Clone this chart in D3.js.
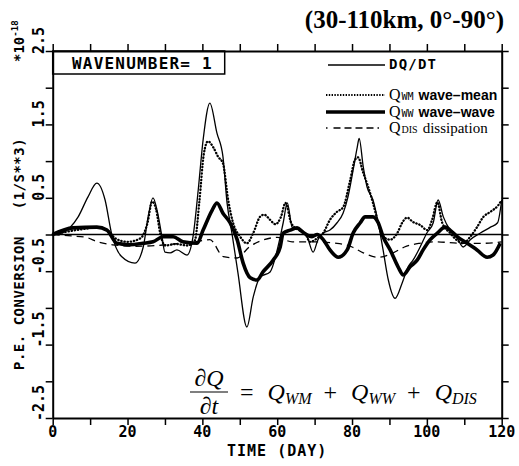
<!DOCTYPE html>
<html>
<head>
<meta charset="utf-8">
<script src="https://cdn.jsdelivr.net/npm/d3@7"></script>
<style>
  body { margin: 0; background: white; }
  .mono { font-family: "DejaVu Sans Mono", monospace; font-weight: bold; fill: black; }
</style>
</head>
<body>
<div id="viz"></div>
<script>
// series: [day, value x 1e-18]
var dqdt = [[0,0],[2.4,0.02],[6.8,0.24],[9.4,0.51],[11.8,0.70],[14,0.47],[15.7,0.02],[18.4,-0.30],[22,-0.39],[24.2,-0.17],
  [25.5,0.24],[26.8,0.50],[27.9,0.33],[29.2,-0.03],[30,-0.24],[31.4,-0.25],[33.2,-0.21],[35.9,-0.28],[37.5,-0.03],[38.9,0.61],
  [40.2,1.29],[42,1.79],[43.9,1.38],[45.5,1.06],[46.6,0.43],[47.9,0.02],[49.5,-0.52],[51.9,-1.26],[53.6,-0.85],[55.4,-0.58],
  [58.1,-0.51],[60.2,-0.17],[61.6,0.16],[62.7,0.43],[64,0.10],[66.1,0.06],[68,-0.03],[69.6,-0.24],[70.9,-0.07],[72.3,0.02],
  [74.1,0.06],[76,0.16],[77.6,0.29],[78.9,0.51],[80.3,0.88],[81.4,1.19],[81.9,1.31],[83,0.92],[84,0.65],[85.6,0.47],
  [87,0.16],[88.3,-0.21],[89.7,-0.62],[91.5,-0.87],[93.4,-0.66],[95,-0.44],[96.3,-0.35],[98.2,-0.17],[100,0.02],[101.7,0.16],
  [103,0.47],[104.4,0.24],[106.2,0.06],[108.1,-0.05],[109.7,-0.17],[111.6,-0.07],[114.3,0.02],[117,0.10],[118.9,0.16],[120,0.47]];

var qwm = [[0,0],[5,0.05],[9,0.08],[12,0.1],[14.5,0.06],[17,-0.06],[20,-0.1],[23.5,-0.05],[25.3,0.15],[26.6,0.45],
  [27.6,0.35],[28.8,0.0],[30,-0.15],[33,-0.13],[36,-0.15],[38,-0.08],[39.2,0.45],[40.4,1.1],[41.5,1.27],[43,1.18],
  [44.2,1.06],[45.5,0.97],[46.9,0.47],[48.2,0.16],[50.1,-0.03],[51.9,-0.12],[53.6,0.02],[55.4,0.24],[56.5,0.27],[58.1,0.20],
  [59.5,0.14],[61,0.24],[62.2,0.43],[63.8,0.15],[65.8,0.06],[67.4,0.02],[68.8,-0.10],[70.7,-0.05],[72.3,0.02],[74.1,0.2],
  [76,0.31],[77.6,0.37],[79.5,0.74],[80.8,1.02],[81.6,1.05],[83,0.84],[84.3,0.65],[85.6,0.43],[87,0.16],[88.3,-0.03],
  [90.2,-0.07],[92.1,0.02],[93.4,0.16],[94.7,0.23],[96.3,0.17],[98.2,0.13],[100.1,0.06],[101.4,0.2],[102.8,0.44],[104.1,0.16],
  [106.2,0.02],[108.1,-0.08],[109.7,-0.12],[111.6,-0.03],[113.4,0.10],[115.1,0.24],[117,0.31],[119.1,0.40],[120,0.47]];

var qww = [[0,0],[5.4,0.09],[11.8,0.10],[14.5,0.06],[17.2,-0.12],[20.7,-0.14],[24.1,-0.12],[26.8,-0.10],[29.5,-0.03],[32.2,-0.03],
  [34.8,-0.10],[38.6,-0.12],[40.2,0.06],[42.6,0.33],[43.9,0.43],[45.5,0.29],[47.4,0.16],[49.3,-0.07],[50.9,-0.39],[52.8,-0.59],
  [54.6,-0.62],[56.2,-0.51],[58.9,-0.35],[60.8,-0.17],[61.6,0.02],[63.5,0.06],[65.3,0.09],[66.9,0.03],[69.3,-0.03],[70.7,0.0],
  [72.3,-0.07],[74.1,-0.21],[76.3,-0.31],[78.7,-0.21],[80.3,0.02],[82.2,0.16],[83.5,0.24],[85.6,0.24],[87,0.16],[88.3,-0.03],
  [90.2,-0.21],[92.3,-0.44],[93.7,-0.55],[95.5,-0.44],[97.4,-0.35],[99,-0.21],[100.9,-0.07],[102.8,0.02],[104.9,0.10],[106.2,0.06],
  [108.1,-0.03],[110.8,-0.12],[113.4,-0.21],[116.1,-0.31],[117.7,-0.28],[119.6,-0.12]];

var qdis = [[0,0],[5,-0.02],[9,-0.04],[12,-0.1],[16,-0.14],[22,-0.16],[28,-0.15],[34,-0.12],[38,-0.1],[42,-0.07],
  [45.6,-0.3],[49.3,-0.32],[52.5,-0.17],[56,-0.08],[60,-0.04],[64,-0.1],[70,-0.1],[76,-0.12],[80,-0.17],[83,-0.25],
  [87,-0.31],[91,-0.25],[94,-0.17],[98,-0.12],[102,-0.1],[110,-0.12],[115,-0.12],[120,-0.1]];

var xTicks = d3.range(0, 121, 10);
var yTicks = d3.range(-2.5, 2.51, 0.5);
var yLabels = [2.5, 1.5, 0.5, -0.5, -1.5, -2.5];

// plot frame
var W = 519, H = 466;
const frame = {left: 52.7, right: 501.7, top: 51, bottom: 418};

const svg = d3.select("#viz").append("svg")
    .attr("width", W)
    .attr("height", H)
    .style("background", "white");

const x = d3.scaleLinear().domain([0, 120]).range([frame.left, frame.right]);
const y = d3.scaleLinear().domain([-2.5, 2.5]).range([frame.bottom, frame.top]);

// axes on all four sides, ticks pointing out
function styleAxis(g) {
  g.select(".domain").attr("stroke-width", 2);
  g.selectAll(".tick line").attr("stroke-width", 1.5);
}
svg.append("g").attr("transform", `translate(0,${frame.bottom})`)
  .call(d3.axisBottom(x).tickValues(xTicks).tickSize(7).tickSizeOuter(0).tickFormat(""))
  .call(styleAxis);
svg.append("g").attr("transform", `translate(0,${frame.top})`)
  .call(d3.axisTop(x).tickValues(xTicks).tickSize(7).tickSizeOuter(0).tickFormat(""))
  .call(styleAxis);
svg.append("g").attr("transform", `translate(${frame.left},0)`)
  .call(d3.axisLeft(y).tickValues(yTicks).tickSize(7).tickSizeOuter(0).tickFormat(""))
  .call(styleAxis);
svg.append("g").attr("transform", `translate(${frame.right},0)`)
  .call(d3.axisRight(y).tickValues(yTicks).tickSize(7).tickSizeOuter(0).tickFormat(""))
  .call(styleAxis);

// x tick labels
svg.selectAll(".xlab").data(xTicks.filter(d => d % 20 === 0)).enter()
  .append("text").attr("class", "mono")
  .attr("x", d => x(d)).attr("y", 437)
  .attr("text-anchor", "middle").attr("font-size", 15)
  .text(d => d);

// y tick labels (rotated)
svg.selectAll(".ylab").data(yLabels).enter()
  .append("text").attr("class", "mono")
  .attr("transform", d => `translate(44,${y(d) + 3}) rotate(-90)`)
  .attr("font-size", 15)
  .text(d => d);

// axis titles
svg.append("text").attr("class", "mono")
  .attr("x", (frame.left + frame.right) / 2).attr("y", 456)
  .attr("text-anchor", "middle").attr("font-size", 15)
  .attr("letter-spacing", 1)
  .text("TIME (DAY)");
svg.append("text").attr("class", "mono")
  .attr("transform", "translate(24,370) rotate(-90)")
  .attr("font-size", 14).attr("letter-spacing", 0.5)
  .attr("xml:space", "preserve")
  .text("P.E. CONVERSION   (1/S**3)");
var sci = svg.append("text").attr("class", "mono")
  .attr("transform", "translate(24,62) rotate(-90)")
  .attr("font-size", 14);
sci.append("tspan").text("*10");
sci.append("tspan").attr("dy", -6).attr("font-size", 9).text("-18");

// title
svg.append("text")
  .attr("x", 504).attr("y", 28)
  .attr("text-anchor", "end")
  .attr("font-family", "Liberation Serif, serif")
  .attr("font-weight", "bold").attr("font-size", 25)
  .text("(30-110km, 0°-90°)");

// wavenumber box
svg.append("rect")
  .attr("x", frame.left).attr("y", frame.top).attr("width", 172).attr("height", 23)
  .attr("fill", "none").attr("stroke", "black").attr("stroke-width", 1.5);
svg.append("text").attr("class", "mono")
  .attr("x", 72).attr("y", 69).attr("font-size", 16).attr("letter-spacing", 1.2)
  .text("WAVENUMBER= 1");

// zero line
svg.append("line")
  .attr("x1", frame.left).attr("x2", frame.right)
  .attr("y1", y(0)).attr("y2", y(0))
  .attr("stroke", "black").attr("stroke-width", 1.5);

// curves
const line = d3.line()
  .curve(d3.curveMonotoneX)
  .x(d => x(d[0]))
  .y(d => y(d[1]));

var series = [
  {data: qdis, width: 1.3, dash: "7,5", cap: "butt"},
  {data: qwm, width: 2.3, dash: "0.4,2.8", cap: "round"},
  {data: qww, width: 3.6, dash: null, cap: "butt"},
  {data: dqdt, width: 1.3, dash: null, cap: "butt"}
];
series.forEach(s => {
  svg.append("path")
    .datum(s.data)
    .attr("fill", "none")
    .attr("stroke", "black")
    .attr("stroke-width", s.width)
    .attr("stroke-dasharray", s.dash)
    .attr("stroke-linecap", s.cap)
    .attr("stroke-linejoin", "round")
    .attr("d", line);
});

// legend
var legY = [69, 99, 116, 132];
var lg = svg.append("g");
lg.append("line").attr("x1", 328).attr("x2", 385).attr("y1", legY[0] - 4).attr("y2", legY[0] - 4)
  .attr("stroke", "black").attr("stroke-width", 1.3);
lg.append("text").attr("class", "mono").attr("x", 389).attr("y", legY[0]).attr("font-size", 14)
  .attr("letter-spacing", 1.2).text("DQ/DT");
lg.append("line").attr("x1", 326).attr("x2", 385).attr("y1", legY[1] - 4).attr("y2", legY[1] - 4)
  .attr("stroke", "black").attr("stroke-width", 2.2).attr("stroke-dasharray", "1.4,1.4");
lg.append("line").attr("x1", 326).attr("x2", 385).attr("y1", legY[2] - 4).attr("y2", legY[2] - 4)
  .attr("stroke", "black").attr("stroke-width", 3.6);
lg.append("line").attr("x1", 326).attr("x2", 385).attr("y1", legY[3] - 4).attr("y2", legY[3] - 4)
  .attr("stroke", "black").attr("stroke-width", 1.3).attr("stroke-dasharray", "1.5,6,7,4,7,4,7,4,7,4");

var legText = [
  {q: "WM", lab: "wave\u2013mean", bold: true},
  {q: "WW", lab: "wave\u2013wave", bold: true},
  {q: "DIS", lab: "dissipation", bold: false}
];
legText.forEach((t, i) => {
  var tx = lg.append("text").attr("x", 389).attr("y", legY[i + 1] + 1);
  tx.append("tspan").attr("font-family", "Liberation Serif, serif").attr("font-size", 16).text("Q");
  tx.append("tspan").attr("font-family", t.bold ? "DejaVu Sans Mono, monospace" : "Liberation Serif, serif")
    .attr("font-size", 10).attr("dx", 1).text(t.q);
  tx.append("tspan").attr("dx", 5)
    .attr("font-family", t.bold ? "Liberation Sans, Arial, sans-serif" : "Liberation Serif, serif")
    .attr("font-weight", t.bold ? "bold" : "normal")
    .attr("font-size", t.bold ? 14 : 15)
    .text(t.lab);
});

// equation
var eq = svg.append("g").attr("font-family", "Liberation Serif, serif").attr("font-size", 24);
eq.append("text").attr("x", 209).attr("y", 386).attr("text-anchor", "middle").attr("font-style", "italic").text("\u2202Q");
eq.append("line").attr("x1", 190).attr("x2", 228).attr("y1", 392).attr("y2", 392).attr("stroke", "black").attr("stroke-width", 1.2);
eq.append("text").attr("x", 209).attr("y", 414).attr("text-anchor", "middle").attr("font-style", "italic").text("\u2202t");
var rhs = eq.append("text").attr("x", 240).attr("y", 400).attr("xml:space", "preserve");
rhs.append("tspan").text("= ");
[["WM", " + "], ["WW", " + "], ["DIS", ""]].forEach(p => {
  rhs.append("tspan").attr("dx", 8).attr("font-style", "italic").text("Q");
  rhs.append("tspan").attr("font-style", "italic").attr("font-size", 16).attr("dy", 4).text(p[0]);
  if (p[1]) rhs.append("tspan").attr("dy", -4).attr("dx", 6).text(p[1]);
});
</script>
</body>
</html>
